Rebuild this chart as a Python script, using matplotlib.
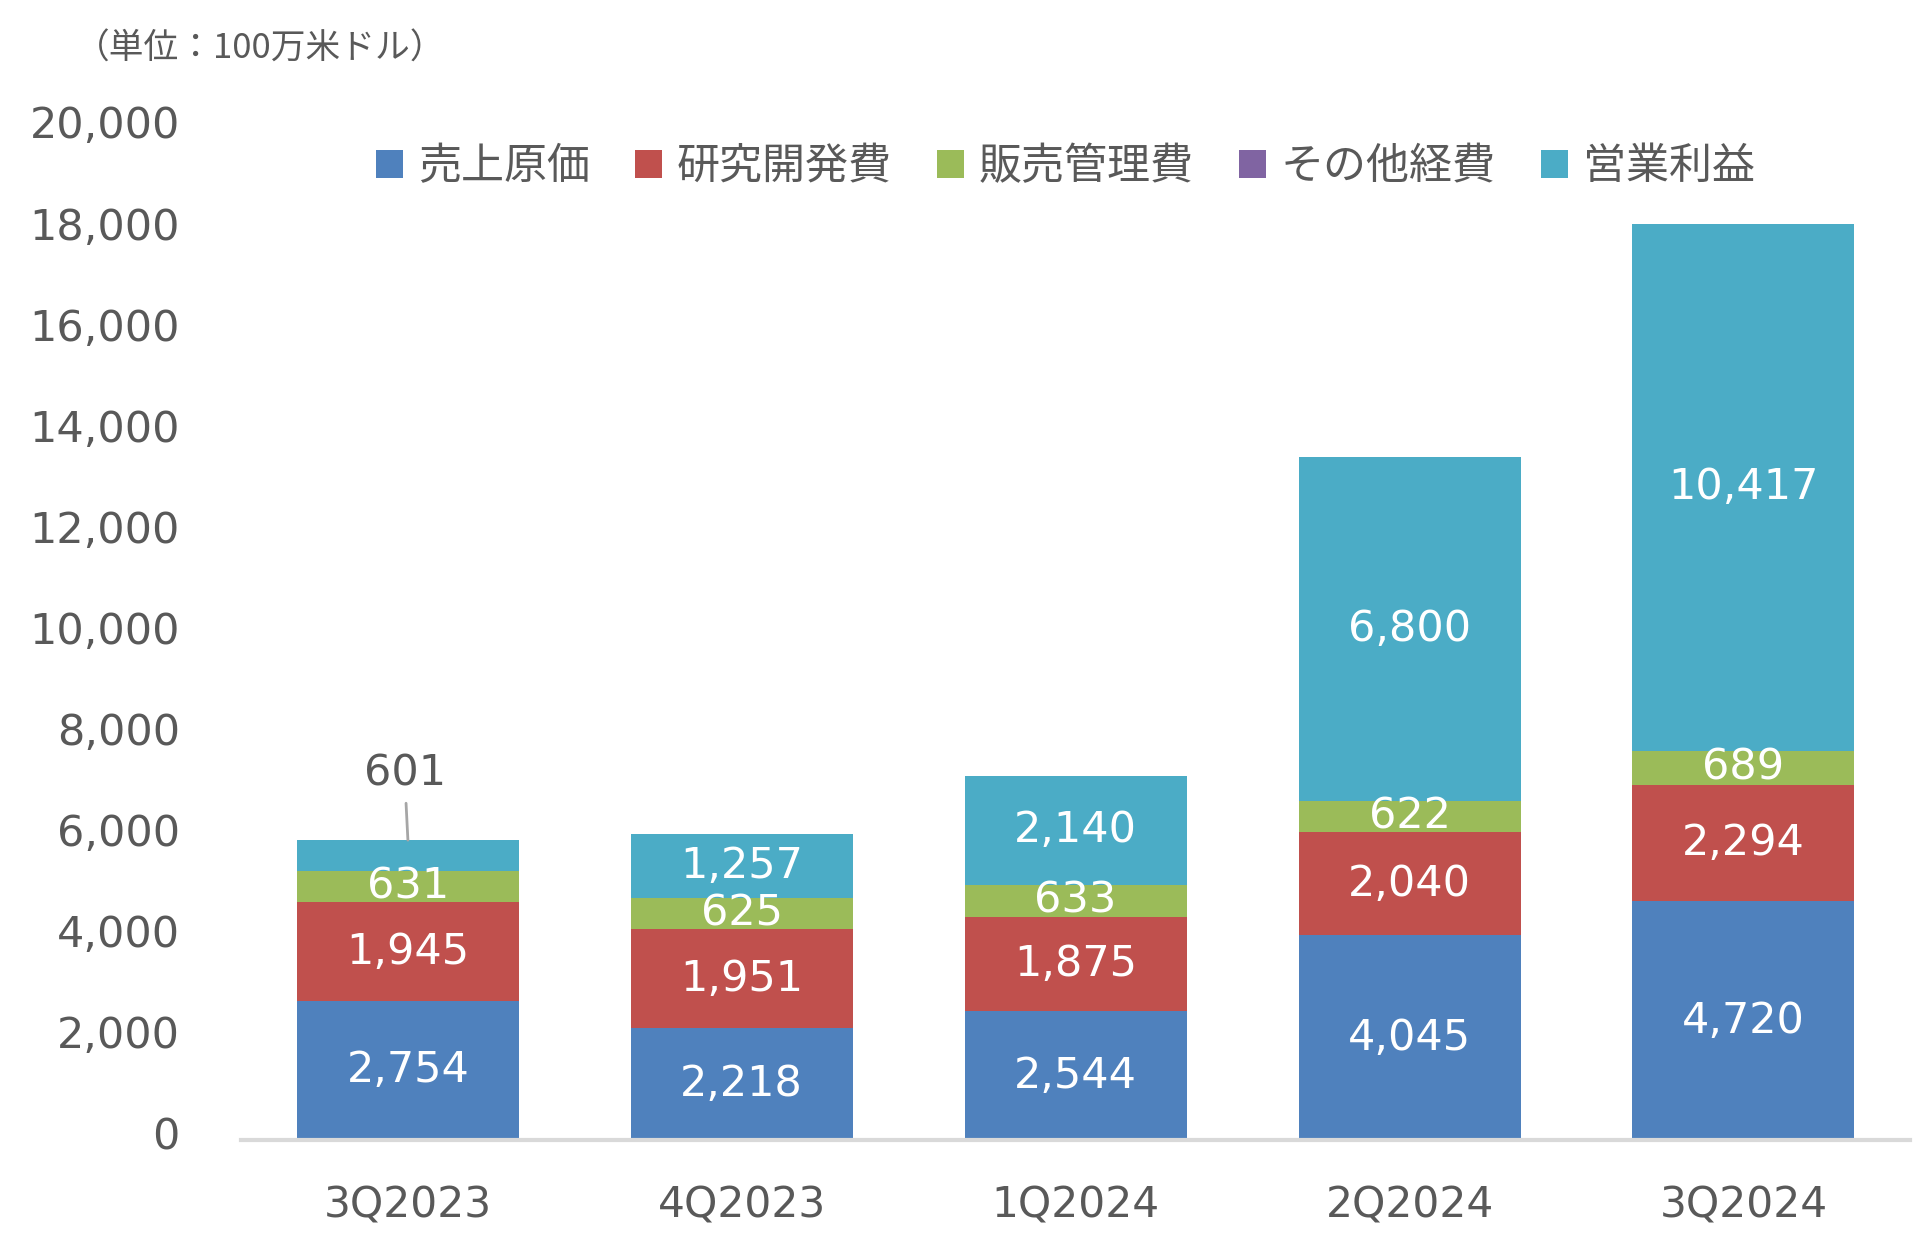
import numpy as np
import matplotlib.pyplot as plt
import matplotlib.transforms as mtransforms
from matplotlib.patches import Patch

plt.rcParams['font.family'] = ['DejaVu Sans', 'Noto Sans CJK JP']

# Data (units: million USD)
quarters = ['3Q2023', '4Q2023', '1Q2024', '2Q2024', '3Q2024']
seriesNames = ['売上原価', '研究開発費', '販売管理費', 'その他経費', '営業利益']
costOfSales = [2754, 2218, 2544, 4045, 4720]
researchDev = [1945, 1951, 1875, 2040, 2294]
sellingAdmin = [631, 625, 633, 622, 689]
otherExpenses = [0, 0, 0, 0, 0]
operatingProfit = [601, 1257, 2140, 6800, 10417]
yTicks = [0, 2000, 4000, 6000, 8000, 10000, 12000, 14000, 16000, 18000, 20000]

colors = ['#4F81BD', '#C0504D', '#9BBB59', '#8064A2', '#4BACC6']
textGray = '#595959'

fig = plt.figure(figsize=(19.2, 12.56), dpi=100)
ax = fig.add_axes([0.1255, 0.0924, 0.8695, 0.8049])

x = np.arange(len(quarters))
series = [costOfSales, researchDev, sellingAdmin, otherExpenses, operatingProfit]
bottom = np.zeros(len(quarters))
for k, (values, color) in enumerate(zip(series, colors)):
    values = np.array(values, dtype=float)
    ax.bar(x, values, 0.665, bottom=bottom, color=color, linewidth=0)
    for i, v in enumerate(values):
        if v <= 0:
            continue
        if k == 4 and v < 620:
            # small segment: label above the bar with a leader line
            ax.annotate(f'{int(v):,}', xy=(x[i], bottom[i] + v), xytext=(x[i] - 0.01, bottom[i] + v + 1310),
                        ha='center', va='center', fontsize=31, color=textGray,
                        arrowprops=dict(arrowstyle='-', color='#A6A6A6', lw=2,
                                        shrinkA=4, shrinkB=0))
        else:
            ax.text(x[i], bottom[i] + v / 2, f'{int(v):,}', ha='center', va='center',
                    fontsize=31, color='white')
    bottom += values

ax.set_xlim(-0.5, len(quarters) - 0.5)
ax.set_ylim(0, 20000)
ax.set_yticks(yTicks)
ax.set_yticklabels([f'{t:,}' for t in yTicks])
ax.set_xticks(x)
ax.set_xticklabels(quarters)
ax.tick_params(axis='both', length=0, colors=textGray)
ax.tick_params(axis='y', pad=44, labelsize=31)
ax.tick_params(axis='x', pad=32, labelsize=30.5)
# Excel draws the value labels a little above their gridline positions
shiftUp = mtransforms.ScaledTranslation(0, 7 / 100, fig.dpi_scale_trans)
for lbl in ax.get_yticklabels():
    lbl.set_transform(lbl.get_transform() + shiftUp)
for side in ['top', 'right', 'left']:
    ax.spines[side].set_visible(False)
ax.spines['bottom'].set_color('#D9D9D9')
ax.spines['bottom'].set_linewidth(3)

handles = [Patch(facecolor=c, edgecolor='none') for c in colors]
fig.legend(handles, seriesNames, loc='center', bbox_to_anchor=(0.555, 0.867),
           ncol=5, frameon=False, handlelength=0.62, handleheight=0.62,
           handletextpad=0.35, columnspacing=1.05, labelcolor=textGray,
           prop={'family': ['Noto Sans CJK JP'], 'size': 31})

fig.text(75 / 1920, 1 - 49 / 1256, '（単位：100万米ドル）', ha='left', va='center',
         fontsize=25, color=textGray, family=['Noto Sans CJK JP'])

fig.savefig('out.png', dpi=100)
